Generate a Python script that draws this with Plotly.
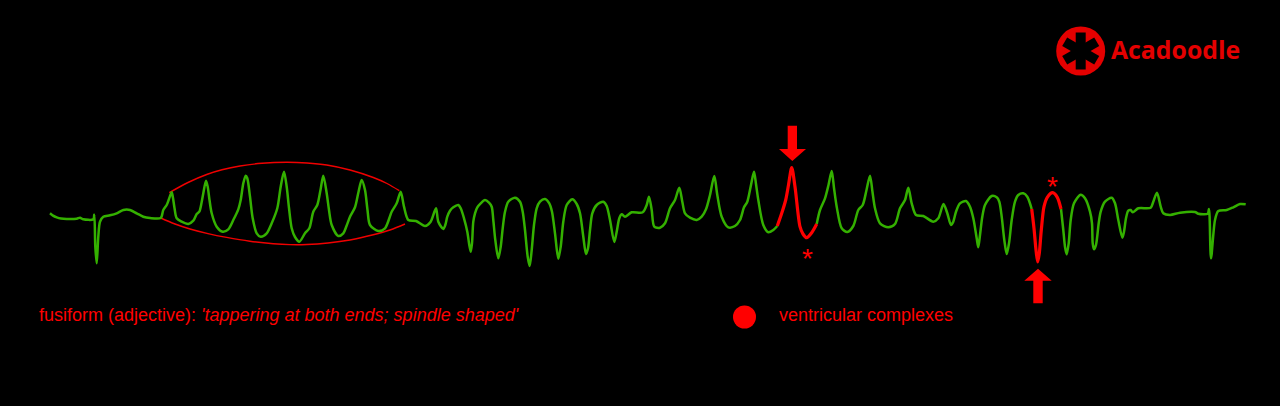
import math
import plotly.graph_objects as go

GREEN = "#34b000"
RED = "#ff0000"
LOGO = "#e40000"

ecg1_pts = [(50,213.3),(53,215.6),(56.7,217.3),(61,218.5),(66.7,219),(76.7,218.7),(80,217.7),(83.3,219.3),(93.3,219.3),(94.3,214.7),(95.3,246.7),(96.7,263.3),(98.3,236.7),(100,221.7),(103.3,216.7),(110,215.3),(116.7,213.3),(123.3,210),(130,210),(136.7,213.3),(143.3,216.7),(150,218),(160.7,218),
 (163.3,210),(166.7,205),(169,199),(171.7,192.3),(173,198),(174.5,208),(176.7,218.3),(181.7,221.7),(188.3,224),(193.3,220.7),(196.7,214),(199.3,211.7),(201.5,203),(203.3,193.3),(206,180.7),(207.7,186.7),(209.5,200),(211.7,213.3),(216.7,226.7),(222.7,231.7),(228.3,229.3),(233.3,220),(238.3,209.3),(240.7,200),(243.3,183.3),(245.7,175.7),(247.3,178.3),(250,196.7),(252.7,218.3),(256.7,233.3),(260.7,236.7),(266.7,233.3),(271.7,223.3),(277.3,208.3),(280.7,186.7),(284,171.7),(286.7,186.7),(289,208),(291.7,228.3),(295,237),(299.3,241.7),(305,233.3),(309.3,228.3),(313.3,211.7),(317.3,205),(320.5,190),(323.3,175.7),(326.7,193.3),(329,210),(331.7,225),(338.3,236),(343.3,233.3),(346.5,226),(350,216.7),(355,207.3),(358.5,192),(361.7,180),(365,190),(367.5,210),(370,225),(378.3,231),(385,228.3),(391.7,211.7),(396.7,203.3),(400.7,191.7),(404,206.7),(408.3,220),(416,221),(425,226),(430.7,221.7),(436,208.3),(438.3,221.7),(443.3,229),(445.3,225),(447.3,216.7),(450,210.7),(453.3,207.3),(458.3,205),(460.7,208.3),(464,218.3),(467.3,231.7),(469.3,245),(470.7,251.7),(472,243.3),(473.3,221.7),(475,213.3),(477.3,207.3),(480.7,203.3),(485,200),(489,202.7),(491.7,206.7),(493.3,220),(495.3,240),(498.3,258.3),(500.7,246.7),(502.7,228.3),(505,211.7),(508.3,201.7),(515,197.7),(520,201.7),(522.7,211.7),(525,230),(527.7,256.7),(529.7,266),(531.7,250),(534,225),(536.7,208.3),(540,201.7),(545,199),(549.3,203.3),(552,211.7),(555,233.3),(558.3,258.7),(560.7,246.7),(563.3,221.7),(566.7,205),(572.3,199.3),(576.7,204),(580,213.3),(583.3,236.7),(586,254),(588,248.3),(590,230),(592.3,213.3),(596.7,205),(603.3,201.7),(606.7,206),(610,220),(614.3,242),(616.7,231.7),(619.3,218.3),(621.7,214.3),(625,216.7),(631.7,212.3),(642.7,212.3),(646.7,205),(649,196.7),(651.7,210),(654.3,226.7),(660,227.7),(665,223.3),(670,208.3),(675,200),(679.3,187.7),(682.3,201.7),(685,213.3),(690,217.7),(696.7,220),(701.7,216.7),(706,209.3),(710,195),(714.3,176),(717.3,195),(721.7,216.7),(728.3,227.3),(735,226),(740,220),(744,207.3),(747.3,201.7),(751,185),(754,171.7),(756,184),(758.3,200),(763.3,225),(768.3,232.3),(773.3,230),(777.3,226)]
ecg1_t = [p[0] for p in ecg1_pts]
ecg1_v = [p[1] for p in ecg1_pts]

red1_t = [777.3,781.7,785.7,788.5,791.7,795,800,803,806.7,811.7,816.7]
red1_v = [226,213.3,200,185,167.7,186.7,226.7,234,237.7,232.7,224]

ecg2_pts = [(816.7,224),(820,210),(825,198.3),(828.5,185),(831.7,171),(834,188),(836.7,206.7),(841.7,228.3),(847.3,232),(853.3,226),(858.3,210),(862.7,205),(866.5,190),(870,175.7),(872.5,192),(875,208.3),(880,223.3),(888.3,227.3),(895,224),(900,208.3),(905,200),(908.3,187.7),(911.7,203.3),(916,215),(923.3,216),(933.3,221.7),(938.3,218.3),(943.5,204),(947.3,213.3),(951,225),(953.3,221.7),(956,211.7),(960,203.3),(966,201),(970,206.7),(973.3,218.3),(976.7,238.3),(978.3,247.3),(980,235),(982.3,216.7),(985,205),(991.7,196),(996.7,197.3),(999.3,201.7),(1001.7,216.7),(1004.3,240),(1006.7,254),(1009,243.3),(1011.7,220),(1015,201.7),(1018.3,195),(1023.3,193.3),(1027.3,196.7),(1031.7,209)]
ecg2_t = [p[0] for p in ecg2_pts]
ecg2_v = [p[1] for p in ecg2_pts]

red2_t = [1031.7,1034,1036,1037.7,1039.3,1041.3,1044,1047.3,1052.7,1057.3,1061]
red2_v = [209,228.3,250,262,253.3,230,206.7,197.3,192.7,197.3,209]

ecg3_pts = [(1061,209),(1063.3,230),(1065,246.7),(1066.7,254.3),(1068.7,243.3),(1070.7,220),(1074,203.3),(1080.7,194.7),(1085,198.3),(1090,211.7),(1092,223.3),(1092.7,243.3),(1094,249.3),(1096,245),(1098.7,223.3),(1100.7,211.7),(1105,201.7),(1111.7,197.7),(1115,203.3),(1118.3,220),(1122.3,237.7),(1124,231.7),(1126,218.3),(1128.3,210.7),(1130.7,210),(1132.7,212.3),(1138.3,208.3),(1150.7,207.7),(1153.3,201.7),(1157,192.7),(1160.7,206.7),(1163.3,213.3),(1170,215),(1180,212.7),(1195,212),(1198.3,213.7),(1207.7,213.7),(1209,209),(1211,258.3),(1215,220),(1218.3,211),(1226.7,210),(1233.3,207.3),(1240,204),(1245.7,204.3)]
ecg3_t = [p[0] for p in ecg3_pts]
ecg3_v = [p[1] for p in ecg3_pts]

upper_t = [169.3,188,206.7,222,240,262,286.7,307,326.7,350,373.3,387,399.3]
upper_v = [192.7,182.5,174.5,169.8,166,163.3,162.3,163,165,170,177.5,183.5,190.7]
lower_t = [160.7,175,190,208,226.7,250,273.3,290,306.7,328,350,373.3,390,405]
lower_v = [218,224,229,233.6,237.4,241.2,243.7,244.6,244.5,243,240,234.8,230,224]

down_arrow_t = [787.7,797,797,806,792.3,779,787.7,787.7]
down_arrow_v = [125.7,125.7,149,149,161,149,149,125.7]
up_arrow_t = [1033.3,1042.7,1042.7,1051.7,1038,1024.3,1033.3,1033.3]
up_arrow_v = [303.3,303.3,280.7,280.7,268.7,280.7,280.7,303.3]

fig = go.Figure()

def line(t, v, color, width, smooth=0.8):
    fig.add_trace(go.Scatter(x=t, y=v, mode="lines", hoverinfo="skip",
                             line=dict(color=color, width=width, shape="spline", smoothing=smooth)))

line(upper_t, upper_v, "#f00000", 1.4, 1)
line(lower_t, lower_v, "#f00000", 1.4, 1)
line(ecg1_t, ecg1_v, GREEN, 2.5)
line(ecg2_t, ecg2_v, GREEN, 2.5)
line(ecg3_t, ecg3_v, GREEN, 2.5)
line(red1_t, red1_v, RED, 3.2)
line(red2_t, red2_v, RED, 3.2)

for t, v in ((down_arrow_t, down_arrow_v), (up_arrow_t, up_arrow_v)):
    fig.add_trace(go.Scatter(x=t, y=v, mode="lines", fill="toself", fillcolor=RED,
                             line=dict(color=RED, width=0), hoverinfo="skip"))

# legend dot
fig.add_trace(go.Scatter(x=[744.5], y=[317], mode="markers", hoverinfo="skip",
                         marker=dict(color=RED, size=23, line=dict(width=0))))

# logo
logo_x, logo_y = 1080.7, 51
fig.add_trace(go.Scatter(x=[logo_x], y=[logo_y], mode="markers", hoverinfo="skip",
                         marker=dict(color=LOGO, size=49, line=dict(width=0))))
for a in (90, 150, 210):
    dx, dy = 18.5 * math.cos(math.radians(a)), 18.5 * math.sin(math.radians(a))
    fig.add_trace(go.Scatter(x=[logo_x - dx, logo_x + dx], y=[logo_y - dy, logo_y + dy], mode="lines",
                             hoverinfo="skip", line=dict(color="#000000", width=10)))

def label(x, y, text, size, color=RED, anchor="left", family="Liberation Sans"):
    fig.add_annotation(x=x, y=y, text=text, showarrow=False, xanchor=anchor, yanchor="middle",
                       font=dict(family=family, size=size, color=color), xref="x", yref="y",
                       borderpad=0, borderwidth=0)

label(39, 314.7, "fusiform (adjective): <i>'tappering at both ends; spindle shaped'</i>", 18)
label(779, 314.7, "ventricular complexes", 18)
label(807, 258, "*", 28, anchor="center")
label(1052.8, 186, "*", 28, anchor="center")
label(1111, 48.7, "<b>Acadoodle</b>", 24.8, color=LOGO, family="Open Sans")

fig.update_layout(
    width=1280, height=406, margin=dict(l=0, r=0, t=0, b=0),
    paper_bgcolor="#000000", plot_bgcolor="#000000", showlegend=False,
    xaxis=dict(range=[0, 1280], visible=False, fixedrange=True),
    yaxis=dict(range=[406, 0], visible=False, fixedrange=True),
)
fig.write_html("out.html", config={"displayModeBar": False},
               post_script="document.documentElement.style.background='#000';document.body.style.margin='0';document.body.style.background='#000';document.body.style.overflow='hidden';")
